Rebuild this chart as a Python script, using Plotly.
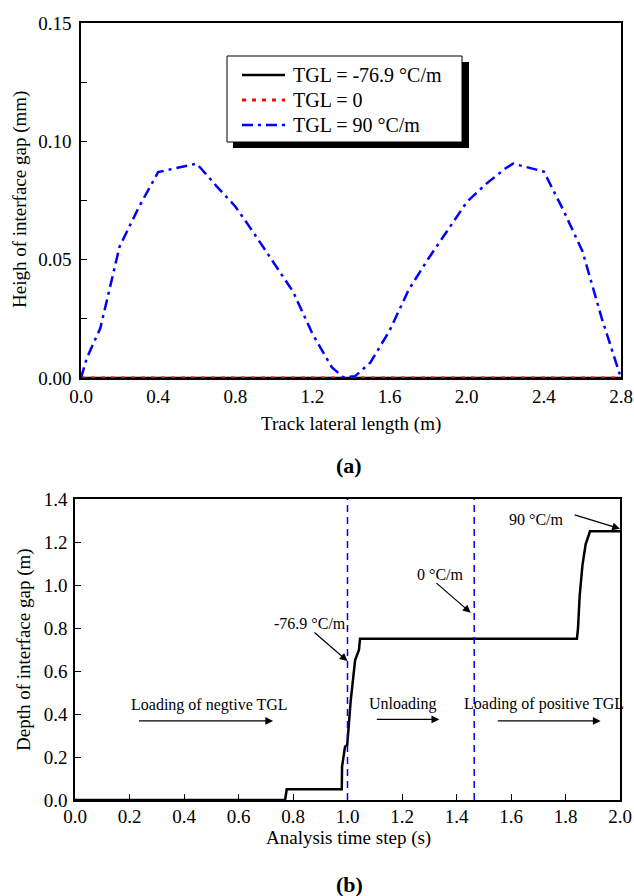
import plotly.graph_objects as go

W, H = 634, 896

# ---------------- data: panel (a) ----------------
x_a = [0.0, 0.03, 0.1, 0.2, 0.3, 0.4, 0.5, 0.6, 0.7, 0.8, 0.9, 1.0, 1.1, 1.2, 1.3,
       1.36, 1.42, 1.5, 1.6, 1.7, 1.8, 1.9, 2.0, 2.1, 2.2, 2.24, 2.3, 2.4, 2.5,
       2.6, 2.7, 2.8]
y_pos = [0.0, 0.0084, 0.021, 0.0555, 0.0722, 0.0870, 0.0888, 0.0906, 0.0813,
         0.0725, 0.0608, 0.0486, 0.0364, 0.0187, 0.0046, 0.0003, 0.0007, 0.0065,
         0.020, 0.0374, 0.0503, 0.0623, 0.0743, 0.082, 0.0885, 0.0906, 0.0892,
         0.0872, 0.0711, 0.0536, 0.0253, 0.0]
x_flat = [0.0, 2.8]
y_neg = [0.0, 0.0]
y_zero = [0.0, 0.0]
names_a = ["TGL = -76.9 °C/m", "TGL = 0", "TGL = 90 °C/m"]

# ---------------- data: panel (b) ----------------
t_b = [0.0, 0.771, 0.777, 0.979, 0.980, 0.991, 0.999, 1.012, 1.028, 1.042, 1.046,
       1.842, 1.846, 1.852, 1.862, 1.874, 1.890, 2.0]
d_b = [0.0, 0.0, 0.05, 0.05, 0.155, 0.248, 0.256, 0.465, 0.651, 0.698, 0.75,
       0.75, 0.80, 0.95, 1.09, 1.19, 1.25, 1.25]
vlines_b = [1.0, 1.465]

FONT = "Liberation Serif"

STYLES_A = [dict(color="black", width=2.5),
            dict(color="red", width=3, dash="4px,6px"),
            dict(color="blue", width=2.5, dash="11px,5px,3px,5px")]


def px_x(p):
    return p / W


def px_y(p):
    return 1 - p / H


fig = go.Figure()

# panel (a) traces
for xs, ys, nm, st in [(x_flat, y_neg, names_a[0], STYLES_A[0]),
                       (x_flat, y_zero, names_a[1], STYLES_A[1]),
                       (x_a, y_pos, names_a[2], STYLES_A[2])]:
    fig.add_trace(go.Scatter(x=xs, y=ys, mode="lines", name=nm, line=st,
                             showlegend=False, xaxis="x", yaxis="y",
                             cliponaxis=False))

# panel (b) trace
fig.add_trace(go.Scatter(x=t_b, y=d_b, mode="lines", showlegend=False,
                         line=dict(color="black", width=2.5),
                         xaxis="x2", yaxis="y2", cliponaxis=False))

axis_common = dict(showline=True, linecolor="black", linewidth=1.5, mirror=True,
                   showgrid=False, zeroline=False, automargin=False,
                   layer="below traces",
                   tickfont=dict(family=FONT, size=19, color="black"),
                   ticks="inside", ticklen=6, tickwidth=1.2, tickcolor="black")

fig.update_layout(
    width=W, height=H,
    margin=dict(l=0, r=0, t=0, b=0, autoexpand=False),
    paper_bgcolor="white", plot_bgcolor="white",
    font=dict(family=FONT, color="black"),
    xaxis=dict(axis_common, domain=[px_x(81), px_x(621)], range=[0, 2.8],
               dtick=0.4, tick0=0, tickformat=".1f", ticks="", anchor="y"),
    yaxis=dict(axis_common, domain=[px_y(378), px_y(23)], range=[0, 0.15],
               dtick=0.05, tick0=0, tickformat=".2f", anchor="x",
               ticklabelstandoff=4,
               minor=dict(dtick=0.025, ticks="inside", ticklen=6,
                          tickwidth=1.2, tickcolor="black")),
    xaxis2=dict(axis_common, domain=[px_x(75), px_x(620)], range=[0, 2.0],
                dtick=0.2, tick0=0, tickformat=".1f", anchor="y2",
                ticklabelstandoff=-2),
    yaxis2=dict(axis_common, domain=[px_y(800), px_y(499)], range=[0, 1.4],
                dtick=0.2, tick0=0, tickformat=".1f", anchor="x2",
                ticklabelstandoff=2),
    showlegend=False,
)

# ---- legend (drawn manually: shadow, box, samples, labels) ----
fig.add_shape(type="rect", xref="paper", yref="paper",
              x0=px_x(233), x1=px_x(469), y0=px_y(148), y1=px_y(62),
              fillcolor="black", line=dict(width=0), layer="above")
fig.add_shape(type="rect", xref="paper", yref="paper",
              x0=px_x(227), x1=px_x(462), y0=px_y(142), y1=px_y(56),
              fillcolor="white", line=dict(color="black", width=1), layer="above")
legend_rows = [75, 100, 125]
for row, st in zip(legend_rows, STYLES_A):
    fig.add_shape(type="line", xref="paper", yref="paper",
                  x0=px_x(242), x1=px_x(285), y0=px_y(row), y1=px_y(row),
                  line=st, layer="above")

# vertical dashed lines in panel (b)
for xv in vlines_b:
    fig.add_shape(type="line", xref="x2", yref="y2", x0=xv, x1=xv, y0=0, y1=1.4,
                  line=dict(color="blue", width=1.5, dash="7px,5px"))

annots = []
for row, nm in zip(legend_rows, names_a):
    annots.append(dict(text=nm, x=px_x(291), y=px_y(row), xref="paper",
                       yref="paper", xanchor="left", yanchor="middle",
                       showarrow=False, font=dict(family=FONT, size=20)))

# axis titles and panel labels
titles = [("Track lateral length (m)", 351, 424, 0, 19),
          ("Heigh of interface gap (mm)", 20, 200, -90, 19),
          ("<b>(a)</b>", 349, 465, 0, 22),
          ("Analysis time step (s)", 348, 838, 0, 19),
          ("Depth of interface gap (m)", 24, 650, -90, 19),
          ("<b>(b)</b>", 349, 884, 0, 22)]
for txt, xp, yp, ang, fs in titles:
    annots.append(dict(text=txt, x=px_x(xp), y=px_y(yp), xref="paper",
                       yref="paper", xanchor="center", yanchor="middle",
                       showarrow=False, textangle=ang,
                       font=dict(family=FONT, size=fs)))

# panel (b) text labels
labels_b = [("-76.9 °C/m", 0.862, 0.823), ("0 °C/m", 1.34, 1.047),
            ("90 °C/m", 1.694, 1.303), ("Loading of negtive TGL", 0.492, 0.442),
            ("Unloading", 1.205, 0.445), ("Loading of positive TGL", 1.721, 0.445)]
for txt, xx, yy in labels_b:
    annots.append(dict(text=txt, x=xx, y=yy, xref="x2", yref="y2", showarrow=False,
                       xanchor="center", yanchor="middle",
                       font=dict(family=FONT, size=16)))

# arrows: (head_x, head_y, tail_x, tail_y)
arrows_b = [(1.0, 0.646, 0.873, 0.785), (1.452, 0.871, 1.321, 1.015),
            (2.0, 1.262, 1.828, 1.328), (0.727, 0.368, 0.229, 0.368),
            (1.337, 0.375, 1.102, 0.375), (1.929, 0.368, 1.546, 0.368)]
for hx, hy, tx, ty in arrows_b:
    annots.append(dict(text="", x=hx, y=hy, ax=tx, ay=ty, xref="x2", yref="y2",
                       axref="x2", ayref="y2", showarrow=True, arrowhead=2,
                       arrowsize=1.3, arrowwidth=1.2, arrowcolor="black",
                       standoff=0, startstandoff=0))

fig.update_layout(annotations=annots)

fig.write_html("out.html")
